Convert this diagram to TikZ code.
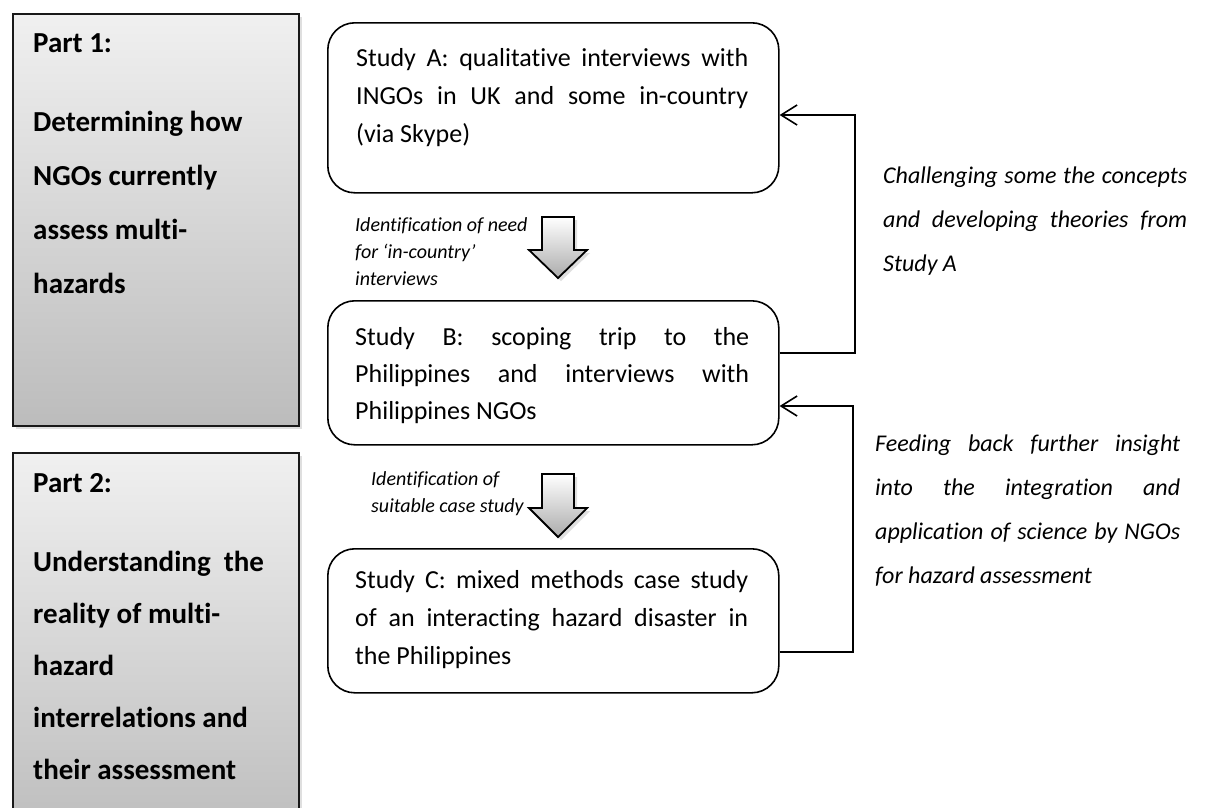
\documentclass[tikz,border=0pt]{standalone}
\usepackage{fontspec}
\setmainfont{Carlito}[Ligatures=NoCommon]
\usetikzlibrary{arrows.meta,shadows}
\definecolor{parttop}{HTML}{F0F0F0}
\definecolor{partbot}{HTML}{BCBCBC}
\definecolor{arrbot}{HTML}{ABABAB}
\newcommand{\jline}[2]{\makebox[#1][s]{#2}}
\begin{document}
\begin{tikzpicture}[x=1pt,y=-1pt,
  partbox/.style={draw=black!90, line width=1.8pt, top color=parttop, bottom color=partbot,
    inner sep=0pt, anchor=north west,
    drop shadow={shadow xshift=3pt, shadow yshift=-3pt, opacity=0.25}},
  studybox/.style={draw, line width=1.6pt, rounded corners=27pt, inner sep=0pt,
    anchor=north west, minimum width=451pt},
  parttext/.style={font=\bfseries\fontsize{29}{54}\selectfont, align=left, inner sep=0pt, anchor=base west},
  boxtext/.style={font=\fontsize{26}{38}\selectfont, align=left, inner sep=0pt, anchor=base west},
  sidetext/.style={font=\itshape\fontsize{24}{44}\selectfont, align=left, inner sep=0pt, anchor=base west},
  smalltext/.style={font=\itshape\fontsize{20}{27}\selectfont, align=left, inner sep=0pt, anchor=base west},
  blockarrow/.style={draw, line width=1.8pt, line join=miter, top color=white, bottom color=arrbot,
    drop shadow={shadow xshift=3pt, shadow yshift=-3pt, opacity=0.25}},
  conn/.style={line width=1.6pt, -{Straight Barb[length=16pt,width=20pt,line width=1.6pt]}}
]
\useasboundingbox (0,0) rectangle (1206,807);
\fill[white] (0,0) rectangle (1206,807);
\clip (0,0) rectangle (1206,807);

% left part boxes
\node[partbox, minimum width=286pt, minimum height=412pt] (P1) at (12,13) {};
\node[partbox, minimum width=286pt, minimum height=390pt] (P2) at (12,452) {};
% (base anchor = baseline of the last line)
\node[parttext] (P1t) at (33,293) {Part 1:\\[25pt]Determining how\\NGOs currently\\assess multi-\\hazards};
\node[parttext, font=\bfseries\fontsize{29}{52}\selectfont] (P2t) at (33,779) {Part 2:\\[27pt]Understanding\ \ the\\reality of multi-\\hazard\\interrelations and\\their assessment};

% study boxes
\node[studybox, minimum height=170pt] (A) at (327,22) {};
\node[studybox, minimum height=144pt] (B) at (327,300) {};
\node[studybox, minimum height=144pt] (C) at (327,548) {};

\node[boxtext] (At) at (356,142) {\jline{392pt}{Study A: qualitative interviews with}\\\jline{392pt}{INGOs in UK and some in-country}\\(via Skype)};
\node[boxtext, font=\fontsize{26}{37}\selectfont] (Bt) at (355,419) {\jline{394pt}{Study B: scoping trip to the}\\\jline{394pt}{Philippines and interviews with}\\Philippines NGOs};
\node[boxtext] (Ct) at (355,664) {\jline{393pt}{Study C: mixed methods case study}\\\jline{393pt}{of an interacting hazard disaster in}\\the Philippines};

% block arrows
\path[blockarrow] (542,217) -- (574,217) -- (574,250) -- (587,250) -- (558,278) -- (529,250) -- (542,250) -- cycle;
\path[blockarrow] (542,474) -- (574,474) -- (574,508) -- (587,508) -- (558,537) -- (529,508) -- (542,508) -- cycle;

\node[smalltext] (L1) at (355,285) {Identification of need\\for ‘in-country’\\interviews};
\node[smalltext] (L2) at (371,512) {Identification of\\suitable case study};

% feedback connectors
\coordinate (r1) at (855,353);
\coordinate (r1t) at (855,115);
\draw[conn] (B.east |- r1) -- (r1) -- (r1t) -- (A.east |- r1t);
\coordinate (r2) at (853,652);
\coordinate (r2t) at (853,406);
\draw[conn] (C.east |- r2) -- (r2) -- (r2t) -- (B.east |- r2t);

\node[sidetext] (S1) at (883,271) {\jline{304pt}{Challenging some the concepts}\\\jline{304pt}{and developing theories from}\\Study A};
\node[sidetext] (S2) at (875,583) {\jline{305pt}{Feeding back further insight}\\\jline{305pt}{into the integration and}\\\jline{305pt}{application of science by NGOs}\\for hazard assessment};
\end{tikzpicture}
\end{document}
